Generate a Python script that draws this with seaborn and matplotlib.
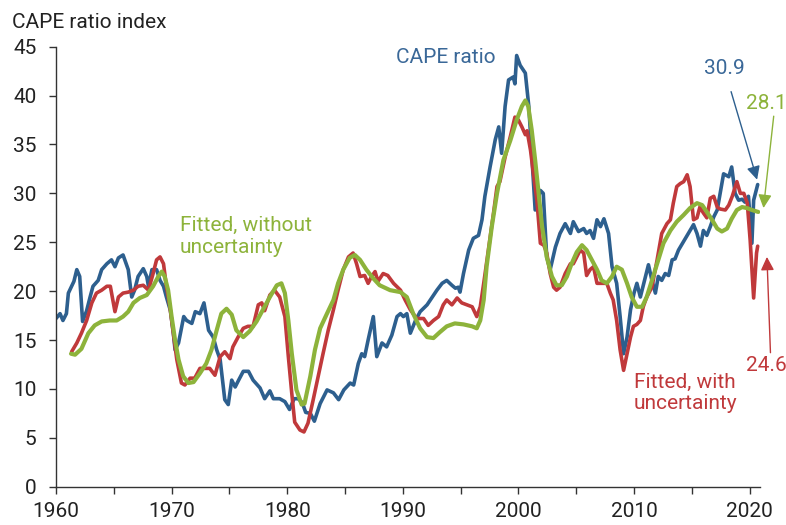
import pandas as pd
import matplotlib
matplotlib.use("Agg")
import matplotlib.pyplot as plt
import seaborn as sns

# CAPE ratio
cape_years = [1960.0, 1960.35, 1960.6, 1960.9, 1961.07, 1961.35, 1961.55, 1961.8, 1962.05, 1962.3,
              1962.65, 1962.95, 1963.2, 1963.65, 1963.95, 1964.4, 1964.8, 1965.1, 1965.4, 1965.8,
              1966.25, 1966.55, 1966.8, 1967.1, 1967.55, 1967.85, 1968.0, 1968.3, 1968.7, 1969.0,
              1969.3, 1969.55, 1969.9, 1970.15, 1970.3, 1970.6, 1971.05, 1971.3, 1971.75, 1972.05,
              1972.45, 1972.8, 1973.2, 1973.6, 1973.9, 1974.2, 1974.6, 1974.9, 1975.2, 1975.5,
              1975.8, 1976.2, 1976.65, 1977.05, 1977.65, 1978.05, 1978.5, 1978.8, 1979.35, 1979.8,
              1980.2, 1980.6, 1980.95, 1981.3, 1981.6, 1982.0, 1982.35, 1982.85, 1983.45, 1984.0,
              1984.45, 1984.9, 1985.45, 1985.75, 1986.15, 1986.45, 1986.7, 1987.0, 1987.45, 1987.75,
              1988.2, 1988.6, 1989.05, 1989.5, 1989.8, 1990.05, 1990.35, 1990.65, 1991.1, 1991.5,
              1992.1, 1992.5, 1992.95, 1993.4, 1993.8, 1994.25, 1994.55, 1994.8, 1994.95, 1995.25,
              1995.7, 1996.1, 1996.55, 1996.85, 1997.1, 1997.55, 1998.0, 1998.3, 1998.55, 1998.85,
              1999.15, 1999.55, 1999.7, 1999.85, 2000.15, 2000.6, 2000.9, 2001.15, 2001.45, 2001.9,
              2002.15, 2002.45, 2002.75, 2003.2, 2003.6, 2004.05, 2004.5, 2004.75, 2005.2, 2005.65,
              2005.9, 2006.2, 2006.5, 2006.8, 2007.1, 2007.4, 2007.8, 2008.1, 2008.5, 2008.8,
              2009.1, 2009.4, 2009.7, 2010.0, 2010.25, 2010.55, 2011.0, 2011.25, 2011.55, 2011.85,
              2012.1, 2012.4, 2012.7, 2013.0, 2013.3, 2013.55, 2013.85, 2014.3, 2014.7, 2015.15,
              2015.45, 2015.75, 2016.0, 2016.3, 2016.6, 2016.9, 2017.2, 2017.45, 2017.75, 2018.2,
              2018.45, 2018.75, 2019.05, 2019.35, 2019.6, 2019.9, 2020.2, 2020.35, 2020.7]
cape_values = [17.2, 17.7, 17.0, 17.7, 19.8, 20.5, 21.0, 22.2, 21.5, 16.9,
               18.0, 19.4, 20.5, 21.1, 22.2, 22.8, 23.2, 22.5, 23.4, 23.7,
               22.2, 19.4, 20.1, 21.5, 22.3, 21.5, 20.5, 22.2, 22.2, 21.1,
               20.5, 19.4, 18.0, 15.7, 14.0, 14.7, 17.4, 17.0, 16.7, 17.9,
               17.7, 18.8, 16.0, 15.3, 14.0, 13.0, 8.9, 8.4, 10.9, 10.2,
               10.9, 11.8, 11.8, 10.9, 10.1, 9.0, 9.8, 9.0, 9.0, 8.7,
               7.9, 9.0, 9.0, 8.6, 7.6, 7.5, 6.7, 8.5, 9.9, 9.6,
               8.9, 9.9, 10.6, 10.4, 12.6, 13.6, 13.3, 15.0, 17.4, 13.3,
               14.7, 14.3, 15.5, 17.4, 17.7, 17.4, 17.7, 15.7, 17.0, 17.9,
               18.6, 19.3, 20.1, 20.8, 21.1, 20.6, 20.3, 20.4, 19.9, 21.8,
               24.2, 25.4, 25.7, 27.3, 29.7, 32.7, 35.5, 36.8, 34.1, 38.9,
               41.6, 41.9, 41.2, 44.1, 43.1, 42.3, 38.9, 34.1, 28.3, 30.3,
               30.0, 23.5, 22.2, 24.5, 25.9, 26.9, 25.9, 27.1, 26.1, 26.4,
               25.9, 26.2, 25.4, 27.3, 26.6, 27.4, 25.9, 22.5, 20.8, 17.4,
               13.6, 15.3, 18.1, 19.8, 20.8, 19.4, 21.5, 22.7, 21.1, 19.8,
               21.5, 21.1, 21.8, 21.6, 23.2, 23.3, 24.2, 25.1, 25.9, 26.8,
               25.9, 24.6, 26.2, 25.7, 26.6, 27.6, 28.3, 30.0, 32.0, 31.7,
               32.7, 30.0, 29.3, 29.4, 29.1, 29.7, 24.9, 29.3, 30.9]

# Fitted, with uncertainty
unc_years = [1961.35, 1961.8, 1962.2, 1962.65, 1963.1, 1963.5, 1963.95, 1964.4, 1964.7, 1965.1,
             1965.4, 1965.8, 1966.25, 1966.7, 1967.1, 1967.55, 1968.0, 1968.4, 1968.7, 1969.0,
             1969.3, 1969.55, 1969.85, 1970.15, 1970.45, 1970.85, 1971.15, 1971.6, 1972.0, 1972.45,
             1972.9, 1973.3, 1973.75, 1974.2, 1974.6, 1975.05, 1975.3, 1975.75, 1976.2, 1976.6,
             1977.05, 1977.5, 1977.8, 1978.05, 1978.5, 1978.9, 1979.35, 1979.8, 1980.1, 1980.4,
             1980.65, 1981.1, 1981.45, 1981.8, 1982.25, 1982.7, 1983.1, 1983.55, 1984.0, 1984.4,
             1984.85, 1985.3, 1985.7, 1986.0, 1986.3, 1986.7, 1987.0, 1987.3, 1987.6, 1987.85,
             1988.3, 1988.7, 1989.2, 1989.8, 1990.2, 1990.65, 1991.2, 1991.8, 1992.2, 1992.65,
             1993.1, 1993.5, 1993.8, 1994.25, 1994.7, 1995.1, 1995.55, 1996.0, 1996.4, 1996.7,
             1997.0, 1997.4, 1997.85, 1998.15, 1998.4, 1998.85, 1999.3, 1999.7, 2000.0, 2000.3,
             2000.6, 2000.75, 2001.05, 2001.3, 2001.6, 2001.9, 2002.2, 2002.45, 2002.75, 2003.05,
             2003.3, 2003.6, 2004.05, 2004.5, 2004.75, 2005.05, 2005.35, 2005.65, 2005.9, 2006.2,
             2006.5, 2006.8, 2007.2, 2007.65, 2007.95, 2008.2, 2008.5, 2008.8, 2009.1, 2009.4,
             2009.7, 2009.95, 2010.25, 2010.55, 2010.8, 2011.1, 2011.55, 2012.0, 2012.4, 2012.85,
             2013.15, 2013.4, 2013.7, 2014.0, 2014.3, 2014.6, 2014.85, 2015.15, 2015.45, 2015.7,
             2016.0, 2016.3, 2016.6, 2016.9, 2017.2, 2017.45, 2017.9, 2018.2, 2018.5, 2018.9,
             2019.2, 2019.5, 2019.8, 2020.05, 2020.35, 2020.6, 2020.7]
unc_values = [13.8, 14.7, 15.7, 17.0, 18.8, 19.8, 20.1, 20.5, 20.5, 17.9,
              19.4, 19.8, 19.9, 20.1, 20.5, 20.6, 20.1, 21.8, 23.2, 23.5,
              22.8, 20.5, 18.4, 15.7, 13.0, 10.6, 10.4, 11.1, 11.1, 12.1,
              12.1, 12.1, 11.4, 13.3, 13.8, 13.1, 14.3, 15.3, 16.2, 16.4,
              16.4, 18.6, 18.8, 18.0, 19.6, 20.1, 19.4, 17.4, 13.3, 9.5,
              6.6, 5.8, 5.6, 6.5, 8.9, 11.4, 13.6, 16.0, 18.1, 20.1,
              22.2, 23.5, 23.9, 22.8, 21.5, 21.6, 20.8, 21.5, 22.0, 21.0,
              21.8, 21.6, 20.8, 20.1, 19.1, 18.1, 17.2, 17.2, 16.5, 17.0,
              17.4, 18.6, 19.1, 18.6, 19.3, 18.8, 18.6, 18.4, 17.4, 18.4,
              20.8, 24.2, 28.0, 30.7, 31.2, 33.7, 35.8, 37.8, 37.5, 36.8,
              36.0, 36.4, 34.4, 32.0, 29.3, 24.9, 24.7, 23.9, 21.8, 20.4,
              20.1, 20.4, 21.8, 22.8, 22.8, 23.5, 24.2, 23.9, 21.6, 22.2,
              22.5, 20.8, 20.8, 20.8, 19.8, 19.1, 17.0, 14.0, 11.9, 13.6,
              15.3, 16.4, 16.6, 17.0, 18.4, 19.4, 20.4, 23.2, 25.9, 26.9,
              27.3, 29.0, 30.7, 31.0, 31.2, 31.9, 30.7, 27.3, 27.5, 28.6,
              28.0, 27.5, 29.5, 29.7, 28.6, 28.4, 28.3, 28.8, 29.7, 31.2,
              30.0, 30.0, 29.0, 25.2, 19.3, 23.9, 24.6]

# Fitted, without uncertainty
fit_years = [1961.3, 1961.65, 1962.2, 1962.8, 1963.35, 1963.95, 1964.65, 1965.25, 1965.8, 1966.25,
             1966.7, 1967.25, 1967.85, 1968.4, 1968.85, 1969.15, 1969.4, 1969.7, 1970.0, 1970.3,
             1970.6, 1971.0, 1971.45, 1971.9, 1972.45, 1973.0, 1973.45, 1973.9, 1974.3, 1974.75,
             1975.2, 1975.6, 1976.2, 1976.75, 1977.35, 1977.9, 1978.5, 1979.1, 1979.5, 1979.8,
             1980.1, 1980.4, 1980.8, 1981.25, 1981.5, 1982.0, 1982.4, 1982.85, 1983.4, 1984.0,
             1984.4, 1984.85, 1985.4, 1985.85, 1986.3, 1986.85, 1987.45, 1988.0, 1988.9, 1989.8,
             1990.35, 1990.9, 1991.5, 1992.1, 1992.65, 1993.2, 1993.8, 1994.5, 1995.25, 1996.0,
             1996.4, 1996.7, 1997.0, 1997.25, 1997.7, 1998.15, 1998.7, 1999.3, 1999.85, 2000.3,
             2000.6, 2000.85, 2001.15, 2001.45, 2001.75, 2002.05, 2002.45, 2002.9, 2003.3, 2003.75,
             2004.2, 2004.6, 2005.05, 2005.5, 2005.9, 2006.35, 2006.8, 2007.2, 2007.65, 2008.1,
             2008.5, 2008.95, 2009.4, 2009.8, 2010.25, 2010.7, 2011.1, 2011.55, 2012.0, 2012.55,
             2013.15, 2013.7, 2014.3, 2014.85, 2015.45, 2015.9, 2016.3, 2016.75, 2017.2, 2017.6,
             2018.05, 2018.45, 2018.9, 2019.35, 2019.75, 2020.2, 2020.75]
fit_values = [13.6, 13.5, 14.1, 15.7, 16.5, 16.9, 17.0, 17.0, 17.4, 17.9,
              18.8, 19.3, 19.6, 20.5, 21.5, 22.0, 21.5, 20.1, 17.4, 15.0,
              13.0, 11.3, 10.6, 10.7, 11.6, 12.6, 14.0, 16.0, 17.7, 18.2,
              17.6, 16.0, 15.3, 15.9, 16.9, 18.1, 19.4, 20.6, 20.8, 19.8,
              17.0, 13.6, 9.9, 8.4, 8.5, 11.3, 14.0, 16.2, 17.6, 19.1,
              20.8, 22.2, 23.4, 23.7, 23.2, 22.2, 21.3, 20.6, 20.1, 19.9,
              19.4, 17.7, 16.2, 15.3, 15.2, 15.8, 16.4, 16.7, 16.6, 16.4,
              16.2, 17.0, 19.1, 22.5, 26.6, 30.0, 33.4, 35.4, 37.5, 38.9,
              39.5, 38.9, 36.5, 33.4, 30.0, 26.6, 23.5, 21.5, 20.6, 20.6,
              21.5, 22.8, 24.0, 24.7, 24.2, 23.2, 22.2, 21.1, 20.8, 21.5,
              22.5, 22.2, 20.8, 19.4, 18.4, 18.4, 19.4, 21.1, 22.8, 24.9,
              26.2, 27.1, 27.8, 28.5, 29.0, 28.8, 28.1, 27.3, 26.4, 26.1,
              26.4, 27.4, 28.3, 28.6, 28.5, 28.3, 28.1]

blue = "#2d5f8e"
red = "#c0393b"
green = "#8db33b"

sns.set_style("ticks")
plt.rcParams["font.family"] = ["Roboto", "DejaVu Sans"]

fig = plt.figure(figsize=(7.86, 5.25), dpi=100)
ax = fig.add_axes([56 / 786, 38.3 / 525, 704 / 786, 440 / 525])

cape = pd.DataFrame({"year": cape_years, "value": cape_values})
unc = pd.DataFrame({"year": unc_years, "value": unc_values})
fit = pd.DataFrame({"year": fit_years, "value": fit_values})

sns.lineplot(data=cape, x="year", y="value", color=blue, lw=2.6, ax=ax)
sns.lineplot(data=unc, x="year", y="value", color=red, lw=2.6, ax=ax)
sns.lineplot(data=fit, x="year", y="value", color=green, lw=3.0, ax=ax)

ax.set_xlim(1960, 2020.9)
ax.set_ylim(0, 45)
ax.set_xlabel("")
ax.set_ylabel("")
ax.set_yticks(range(0, 46, 5))
xt = list(range(1960, 2021, 5))
ax.set_xticks(xt)
ax.set_xticklabels([str(y) if y % 10 == 0 else "" for y in xt])
for s in ["top", "right"]:
    ax.spines[s].set_visible(False)
for s in ["left", "bottom"]:
    ax.spines[s].set_color("#333333")
    ax.spines[s].set_linewidth(1.0)
ax.tick_params(axis="both", labelsize=15, colors="#333333", labelcolor="#222222",
               length=5, width=1)
ax.tick_params(axis="y", pad=9)
ax.tick_params(axis="x", pad=6)

fig.text(12 / 786, 1 - 22 / 525, "CAPE ratio index", fontsize=15, color="#222222",
         ha="left", va="center")

# series labels
ax.text(1989.4, 43.9, "CAPE ratio", color="#3a6898", fontsize=15, ha="left", va="center")
ax.text(1970.7, 25.6, "Fitted, without\nuncertainty", color=green, fontsize=15,
        ha="left", va="center", linespacing=1.15)
ax.text(2010.0, 9.6, "Fitted, with\nuncertainty", color=red, fontsize=15,
        ha="left", va="center", linespacing=1.15)

# latest values with arrows
ax.annotate("30.9", xy=(2020.65, 31.4), xytext=(2017.8, 42.8), color="#3a6898", fontsize=15,
            ha="center", va="center", annotation_clip=False,
            arrowprops=dict(arrowstyle="-|>", color=blue, lw=1, mutation_scale=20,
                            shrinkA=8, shrinkB=0))
ax.annotate("28.1", xy=(2021.2, 28.5), xytext=(2019.65, 39.2), color=green, fontsize=15,
            ha="left", va="center", annotation_clip=False,
            arrowprops=dict(arrowstyle="-|>", color=green, lw=1, mutation_scale=20,
                            shrinkA=0, shrinkB=0, relpos=(0.7, 0.0)))
ax.annotate("24.6", xy=(2021.5, 23.5), xytext=(2019.7, 12.4), color=red, fontsize=15,
            ha="left", va="center", annotation_clip=False,
            arrowprops=dict(arrowstyle="-|>", color=red, lw=1, mutation_scale=20,
                            shrinkA=0, shrinkB=0, relpos=(0.6, 1.0)))

fig.savefig("out.png", dpi=100)
